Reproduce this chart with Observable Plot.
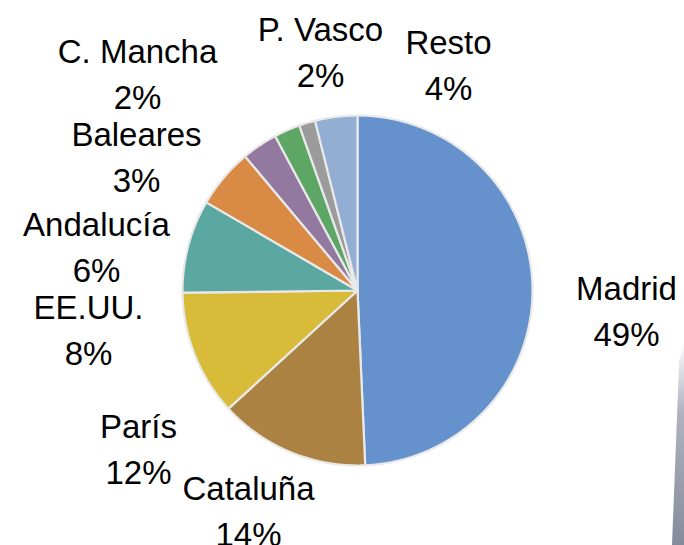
<!DOCTYPE html>
<html>
<head>
<meta charset="utf-8">
<script src="https://cdn.jsdelivr.net/npm/d3@7"></script>
<script src="https://cdn.jsdelivr.net/npm/@observablehq/plot@0.6"></script>
<style>
  html, body { margin: 0; padding: 0; background: #ffffff; }
  #chart { position: relative; width: 684px; height: 545px; overflow: hidden; }
  #chart svg { display: block; }
  #edge {
    position: absolute; left: 668px; top: 340px; width: 16px; height: 205px;
    background: linear-gradient(to bottom, rgba(150,154,170,0) 0%, rgba(150,154,170,0.75) 35%, rgba(128,132,150,0.95) 100%);
    clip-path: polygon(100% 0%, 100% 100%, 25% 100%, 70% 10%);
    filter: blur(0.6px);
  }
</style>
</head>
<body>
<div id="chart"><div id="edge"></div></div>
<script>
// ---- data ----
const regions = ["Madrid", "Cataluña", "París", "EE.UU.", "Andalucía", "Baleares", "C. Mancha", "P. Vasco", "Resto"];
const shares = [49.3, 13.9, 11.6, 8.6, 5.5, 3.3, 2.4, 1.5, 3.9];
const shareLabels = ["49%", "14%", "12%", "8%", "6%", "3%", "2%", "2%", "4%"];

// ---- styles / layout ----
const sliceColors = ["#6591cd", "#ab8241", "#d8bb38", "#5aa8a1", "#d98b46", "#93789f", "#5ea665", "#9b9b9b", "#93aed3"];
const W = 684, H = 545;
const center = [357, 290];
const radius = 175;
// label anchors (name baseline) in pixel coordinates
const labelAnchors = [
  [626, 299], [248, 499], [138, 437], [88, 318], [96, 235],
  [136, 145], [137, 62], [320, 40], [448, 53]
];
const lineGap = 46.5;

// ---- geometry via d3.pie ----
const arcs = d3.pie().sort(null).value(d => d.v)(regions.map((r, i) => ({r, v: shares[i]})));
const slicePts = [];
arcs.forEach(a => {
  const name = a.data.r;
  slicePts.push({name, x: center[0], y: center[1]});
  const n = Math.max(2, Math.ceil((a.endAngle - a.startAngle) / 0.005));
  for (let k = 0; k <= n; k++) {
    const t = a.startAngle + (a.endAngle - a.startAngle) * k / n;
    slicePts.push({name, x: center[0] + radius * Math.sin(t), y: center[1] - radius * Math.cos(t)});
  }
  slicePts.push({name, x: center[0], y: center[1]});
});

const labels = regions.map((r, i) => ({name: r, pct: shareLabels[i], x: labelAnchors[i][0], y: labelAnchors[i][1]}));

const chart = Plot.plot({
  width: W,
  height: H,
  margin: 0,
  x: {domain: [0, W], range: [0, W], axis: null},
  y: {domain: [0, H], range: [0, H], axis: null},
  color: {domain: regions, range: sliceColors},
  style: {background: "transparent"},
  marks: [
    Plot.line(slicePts, {x: "x", y: "y", z: "name", fill: "name", stroke: "#e9e9e9", strokeWidth: 2.2, strokeLinejoin: "round", curve: "linear"}),
    Plot.text(labels, {x: "x", y: "y", text: "name", fontSize: 33, fontFamily: "Liberation Sans, Arial, sans-serif", fill: "#000", textAnchor: "middle", lineAnchor: "bottom"}),
    Plot.text(labels, {x: "x", y: d => d.y + lineGap, text: "pct", fontSize: 33, fontFamily: "Liberation Sans, Arial, sans-serif", fill: "#000", textAnchor: "middle", lineAnchor: "bottom"})
  ]
});
document.getElementById("chart").insertBefore(chart, document.getElementById("edge"));
</script>
</body>
</html>
